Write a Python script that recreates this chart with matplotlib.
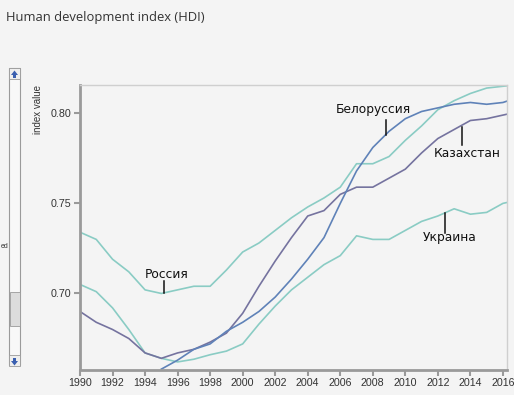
import matplotlib
matplotlib.use("Agg")
import matplotlib.pyplot as plt
import matplotlib.patches as mpatches
import matplotlib.lines as mlines

# data (HDI by year)
years = list(range(1990, 2018))
russia = [0.734, 0.730, 0.719, 0.712, 0.702, 0.700, 0.702, 0.704, 0.704, 0.713,
          0.723, 0.728, 0.735, 0.742, 0.748, 0.753, 0.759, 0.772, 0.772, 0.776,
          0.785, 0.793, 0.802, 0.807, 0.811, 0.814, 0.815, 0.816]
ukraine = [0.705, 0.701, 0.692, 0.680, 0.667, 0.664, 0.662, 0.6635, 0.666, 0.668,
           0.672, 0.683, 0.693, 0.702, 0.709, 0.716, 0.721, 0.732, 0.730, 0.730,
           0.735, 0.740, 0.743, 0.747, 0.744, 0.745, 0.750, 0.752]
kazakhstan = [0.690, 0.684, 0.680, 0.675, 0.667, 0.664, 0.667, 0.669, 0.673, 0.678,
              0.689, 0.704, 0.718, 0.731, 0.743, 0.746, 0.755, 0.759, 0.759, 0.764,
              0.769, 0.778, 0.786, 0.791, 0.796, 0.797, 0.799, 0.801]
belarus_years = list(range(1995, 2018))
belarus = [0.658, 0.663, 0.669, 0.672, 0.679, 0.684, 0.690, 0.698, 0.708, 0.719,
           0.731, 0.750, 0.768, 0.781, 0.790, 0.797, 0.801, 0.803, 0.805, 0.806,
           0.805, 0.806, 0.809]

labels = ["Россия", "Белоруссия", "Казахстан", "Украина"]
xticks = list(range(1990, 2017, 2))
yticks = [0.70, 0.75, 0.80]

W, H = 514, 395
bg = "#f4f4f4"
teal = "#8accc4"
blue = "#5f82b8"
purple = "#75739f"

fig = plt.figure(figsize=(W / 100, H / 100), dpi=100, facecolor=bg)

# helpers: pixel position -> figure fraction
def fx(x):
    return x / W

def fy(y):
    return 1 - y / H

ax = fig.add_axes([fx(80), fy(369.5), fx(507) - fx(80), fy(85) - fy(369.5)])
ax.set_facecolor(bg)

ax.plot(years, russia, color=teal, lw=1.2)
ax.plot(years, ukraine, color=teal, lw=1.2)
ax.plot(years, kazakhstan, color=purple, lw=1.2)
ax.plot(belarus_years, belarus, color=blue, lw=1.2)

ax.set_xlim(1990, 2016.25)
ax.set_ylim(0.6578, 0.8157)
ax.set_xticks(xticks)
ax.set_yticks(yticks)
ax.set_yticklabels([f"{v:.2f}" for v in yticks])

for s in ["left", "bottom"]:
    ax.spines[s].set_color("#9a9a9a")
    ax.spines[s].set_linewidth(2)
for s in ["top", "right"]:
    ax.spines[s].set_color("#cfcfcf")
    ax.spines[s].set_linewidth(1)
ax.tick_params(axis="both", colors="#9a9a9a", labelcolor="#333333",
               length=4, width=1.5, labelsize=7.7, pad=2)
for t in ax.get_xticklabels() + ax.get_yticklabels():
    t.set_fontfamily("Liberation Sans")

fig.text(fx(38), fy(85), "index value", rotation=90, ha="center", va="top",
         fontsize=7, color="#333333", family="Liberation Sans")

# country labels with leader ticks
label_pos = [(167, 274, 163.5, 281, 293),
             (373, 110, 385.7, 120, 135),
             (467, 153, 461.7, 127, 145),
             (450, 237, 445, 213, 233)]
for name, (tx, ty, lx, y0, y1) in zip(labels, label_pos):
    fig.text(fx(tx), fy(ty), name, ha="center", va="center", fontsize=8.8,
             color="#111111", family="DejaVu Sans")
    fig.add_artist(mlines.Line2D([fx(lx), fx(lx)], [fy(y0), fy(y1)],
                                 color="#111111", lw=1.1))

fig.text(fx(6), fy(18), "Human development index (HDI)", ha="left",
         va="center", fontsize=9.4, color="#333333", family="Open Sans")

# scrollbar on the left
fig.add_artist(mpatches.Rectangle((fx(8.5), fy(365)), fx(11.5), fy(68) - fy(365),
                                  facecolor="#f8f8f8", edgecolor="#9a9a9a", lw=0.8))
fig.add_artist(mpatches.Rectangle((fx(9.5), fy(326)), fx(10), fy(292) - fy(326),
                                  facecolor="#dcdcdc", edgecolor="#9a9a9a", lw=0.6))
for yb in (68, 355):
    fig.add_artist(mpatches.Rectangle((fx(9), fy(yb + 11)), fx(11), fy(yb) - fy(yb + 11),
                                      facecolor="#eeeeee", edgecolor="#9a9a9a", lw=0.6))
fig.add_artist(mpatches.Polygon([(fx(11), fy(75)), (fx(18), fy(75)), (fx(14.5), fy(70.5))],
                                closed=True, facecolor="#3a5fb0", edgecolor="none"))
fig.add_artist(mpatches.Rectangle((fx(13), fy(78)), fx(3), fy(75) - fy(78),
                                  facecolor="#3a5fb0", edgecolor="none"))
fig.add_artist(mpatches.Polygon([(fx(11), fy(361)), (fx(18), fy(361)), (fx(14.5), fy(365.5))],
                                closed=True, facecolor="#3a5fb0", edgecolor="none"))
fig.add_artist(mpatches.Rectangle((fx(13), fy(361)), fx(3), fy(358) - fy(361),
                                  facecolor="#3a5fb0", edgecolor="none"))
fig.text(fx(0.5), fy(247), "ed", ha="left", va="center", fontsize=5,
         color="#333333", family="Liberation Sans", zorder=5)

fig.savefig("out.png", dpi=100, facecolor=bg)
